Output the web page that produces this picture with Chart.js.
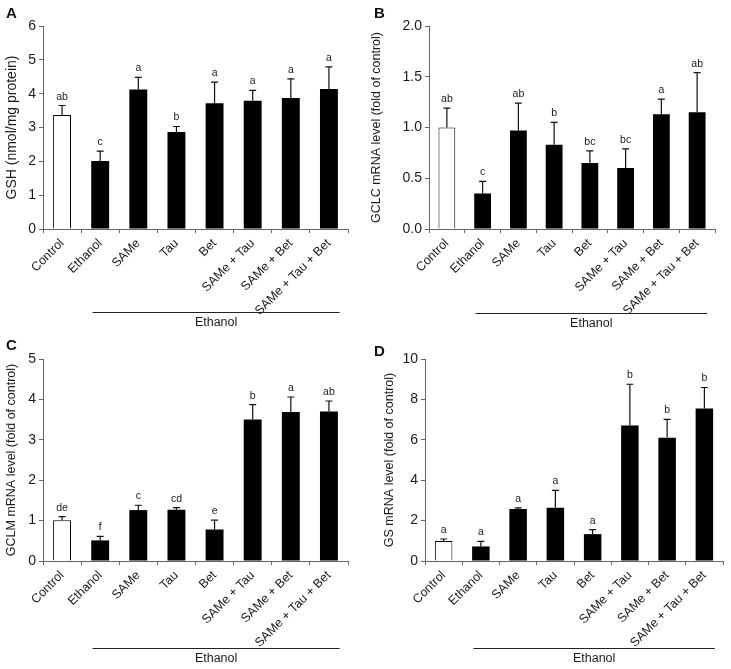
<!DOCTYPE html>
<html>
<head>
<meta charset="utf-8">
<script src="https://cdn.jsdelivr.net/npm/chart.js@4.4.1/dist/chart.umd.min.js"></script>
<style>
body { margin: 0; background: #fff; }
#wrap { position: relative; width: 731px; height: 669px; }
canvas { position: absolute; }
.tag { position: absolute; font: bold 15px "Liberation Sans", Arial, sans-serif; color: #111; }
</style>
</head>
<body>
<div id="wrap">
  <canvas id="chartA" width="365" height="330" style="left:0;top:0"></canvas>
  <canvas id="chartB" width="366" height="330" style="left:365px;top:0"></canvas>
  <canvas id="chartC" width="365" height="339" style="left:0;top:330px"></canvas>
  <canvas id="chartD" width="366" height="339" style="left:365px;top:330px"></canvas>
  <div class="tag" style="left:6px;top:4px">A</div>
  <div class="tag" style="left:374px;top:4px">B</div>
  <div class="tag" style="left:6px;top:336px">C</div>
  <div class="tag" style="left:374px;top:342px">D</div>
</div>
<script>
var categories = ['Control', 'Ethanol', 'SAMe', 'Tau', 'Bet', 'SAMe + Tau', 'SAMe + Bet', 'SAMe + Tau + Bet'];
var groupLabel = 'Ethanol';

// A: GSH
var gshMean = [3.37, 2.01, 4.12, 2.87, 3.72, 3.79, 3.87, 4.14];
var gshSem = [0.28, 0.29, 0.36, 0.16, 0.62, 0.31, 0.57, 0.65];
var gshLetters = ['ab', 'c', 'a', 'b', 'a', 'a', 'a', 'a'];

// B: GCLC
var gclcMean = [1.00, 0.35, 0.97, 0.83, 0.65, 0.60, 1.13, 1.15];
var gclcSem = [0.19, 0.12, 0.27, 0.22, 0.12, 0.19, 0.15, 0.39];
var gclcLetters = ['ab', 'c', 'ab', 'b', 'bc', 'bc', 'a', 'ab'];

// C: GCLM
var gclmMean = [1.01, 0.51, 1.26, 1.27, 0.78, 3.50, 3.69, 3.70];
var gclmSem = [0.09, 0.10, 0.12, 0.05, 0.23, 0.37, 0.37, 0.26];
var gclmLetters = ['de', 'f', 'c', 'cd', 'e', 'b', 'a', 'ab'];

// D: GS
var gsMean = [0.99, 0.72, 2.58, 2.63, 1.33, 6.71, 6.10, 7.55];
var gsSem = [0.10, 0.25, 0.05, 0.87, 0.22, 2.04, 0.91, 1.04];
var gsLetters = ['a', 'a', 'a', 'a', 'a', 'b', 'b', 'b'];

var FONT = '"Liberation Sans", Arial, sans-serif';
var AXIS = '#666';
var TEXT = '#1a1a1a';

// error bars, significance letters and the "Ethanol" bracket
var extras = {
    id: 'extras',
    afterDatasetsDraw: function (chart, args, opts) {
        var ctx = chart.ctx
        var x = chart.scales.x
        var y = chart.scales.y
        ctx.save()
        ctx.strokeStyle = '#111'
        ctx.lineWidth = 1.2
        ctx.fillStyle = TEXT
        ctx.font = '10.5px ' + FONT
        ctx.textAlign = 'center'
        ctx.textBaseline = 'alphabetic'
        opts.means.forEach(function (m, i) {
            var cx = x.getPixelForValue(i)
            var yBar = y.getPixelForValue(m)
            var yTop = y.getPixelForValue(m + opts.sems[i])
            ctx.beginPath()
            ctx.moveTo(cx, yBar)
            ctx.lineTo(cx, yTop)
            ctx.moveTo(cx - 3.5, yTop)
            ctx.lineTo(cx + 3.5, yTop)
            ctx.stroke()
            ctx.fillText(opts.letters[i], cx, yTop - 6)
        })
        var w = x.getPixelForValue(1) - x.getPixelForValue(0)
        var x0 = x.getPixelForValue(1) - 0.2 * w
        var x1 = x.getPixelForValue(categories.length - 1) + 0.28 * w
        var ly = chart.chartArea.bottom + opts.lineOffset
        ctx.strokeStyle = '#222'
        ctx.lineWidth = 1
        ctx.beginPath()
        ctx.moveTo(x0, ly + 0.5)
        ctx.lineTo(x1, ly + 0.5)
        ctx.stroke()
        ctx.font = '12.5px ' + FONT
        ctx.textBaseline = 'middle'
        ctx.fillText(groupLabel, (x0 + x1) / 2, ly + 11)
        ctx.restore()
    }
};

function makePanel(id, means, sems, letters, yTitle, yMax, yStep, decimals, geo) {
    var ctx = document.getElementById(id).getContext('2d');
    return new Chart(ctx, {
        type: 'bar',
        data: {
            labels: categories,
            datasets: [{
                data: means,
                backgroundColor: means.map(function (v, i) { return i === 0 ? '#fff' : '#000'; }),
                borderColor: '#000',
                borderWidth: means.map(function (v, i) { return i === 0 ? 1 : 0; }),
                barPercentage: 0.47,
                categoryPercentage: 1
            }]
        },
        options: {
            responsive: false,
            animation: false,
            devicePixelRatio: 1,
            layout: { padding: { left: 0, right: geo.right, top: geo.top, bottom: 0 } },
            plugins: {
                legend: { display: false },
                tooltip: { enabled: false },
                extras: { means: means, sems: sems, letters: letters, lineOffset: geo.lineOffset }
            },
            scales: {
                x: {
                    offset: true,
                    border: { display: true, color: AXIS, width: 1 },
                    grid: { display: true, drawOnChartArea: false, drawTicks: true, tickLength: 4, color: AXIS, offset: true },
                    ticks: {
                        autoSkip: false, minRotation: 45, maxRotation: 45, padding: 3,
                        color: TEXT, font: { family: FONT, size: 12.5 }
                    },
                    afterFit: function (scale) { scale.height = geo.xHeight; }
                },
                y: {
                    min: 0, max: yMax,
                    border: { display: true, color: AXIS, width: 1 },
                    grid: { display: true, drawOnChartArea: false, drawTicks: true, tickLength: 4, color: AXIS },
                    ticks: {
                        stepSize: yStep, padding: 3, color: TEXT, font: { family: FONT, size: 14 },
                        callback: function (v) { return v.toFixed(decimals); }
                    },
                    title: {
                        display: true, text: yTitle, color: TEXT,
                        font: { family: FONT, size: geo.titleSize }, padding: { top: geo.titlePad, bottom: 0 }
                    },
                    afterFit: function (scale) { scale.width = geo.yWidth; }
                }
            }
        },
        plugins: [extras]
    });
}

makePanel('chartA', gshMean, gshSem, gshLetters, 'GSH (nmol/mg protein)', 6, 1, 0,
    { right: 17, top: 26, xHeight: 101, yWidth: 43, titleSize: 14, titlePad: 3.5, lineOffset: 83 });
makePanel('chartB', gclcMean, gclcSem, gclcLetters, 'GCLC mRNA level (fold of control)', 2, 0.5, 1,
    { right: 16, top: 26, xHeight: 101, yWidth: 64, titleSize: 12.5, titlePad: 4.5, lineOffset: 84 });
makePanel('chartC', gclmMean, gclmSem, gclmLetters, 'GCLM mRNA level (fold of control)', 5, 1, 0,
    { right: 17, top: 29, xHeight: 108, yWidth: 43, titleSize: 12.5, titlePad: 4.5, lineOffset: 87 });
makePanel('chartD', gsMean, gsSem, gsLetters, 'GS mRNA level (fold of control)', 10, 2, 0,
    { right: 8, top: 29, xHeight: 108, yWidth: 60, titleSize: 12.5, titlePad: 17.5, lineOffset: 87 });
</script>
</body>
</html>
